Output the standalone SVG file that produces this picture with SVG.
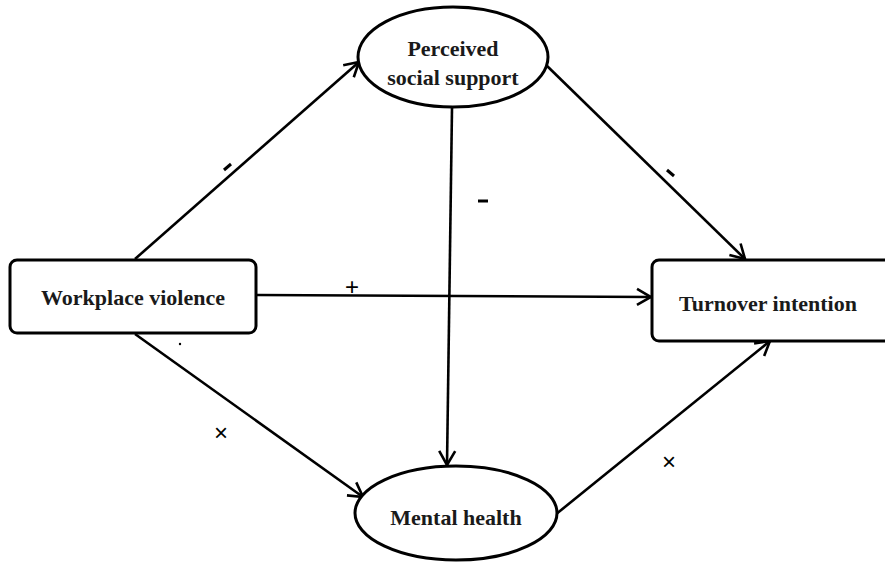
<svg xmlns="http://www.w3.org/2000/svg" width="885" height="562" viewBox="0 0 885 562">
<style>
.n{fill:#fff;stroke:#000;stroke-width:3}
.t{font-family:'Liberation Serif','Times New Roman',serif;font-weight:bold;font-size:22px;fill:#1a1a1a;text-anchor:middle}
.c{fill:none;stroke:#000;stroke-width:2.6}
.s{font-family:'Liberation Sans',Arial,sans-serif;font-size:24px;fill:#000;text-anchor:middle}
</style>
<defs>
<marker id="a" viewBox="0 0 20 20" refX="18" refY="10" markerWidth="20" markerHeight="20" markerUnits="userSpaceOnUse" orient="auto">
<path d="M4 2 L18 10 L4 18" fill="none" stroke="#000" stroke-width="2.6"/>
</marker>
</defs>
<rect width="885" height="562" fill="#fff"/>
<g id="connectors">
<line class="c" x1="135" y1="259" x2="359" y2="62" marker-end="url(#a)"/>
<line class="c" x1="544" y1="63" x2="745" y2="259" marker-end="url(#a)"/>
<line class="c" x1="452" y1="108" x2="447" y2="465" marker-end="url(#a)"/>
<line class="c" x1="257" y1="295" x2="651" y2="297" marker-end="url(#a)"/>
<line class="c" x1="135" y1="334" x2="363" y2="497" marker-end="url(#a)"/>
<line class="c" x1="555" y1="515" x2="770" y2="341" marker-end="url(#a)"/>
<line x1="224" y1="170" x2="231" y2="164" stroke="#000" stroke-width="3"/>
<line x1="478" y1="201" x2="488" y2="201" stroke="#000" stroke-width="3"/>
<line x1="667" y1="170" x2="674" y2="176" stroke="#000" stroke-width="3"/>
<text class="s" x="352" y="295">+</text>
<text class="s" x="221" y="441">×</text>
<text class="s" x="669" y="470">×</text>
<circle cx="180" cy="344" r="1.2" fill="#000"/>
</g>
<g id="workplace-violence">
<rect class="n" x="10" y="260" width="246" height="73" rx="7"/>
<text class="t" x="133" y="305">Workplace violence</text>
</g>
<g id="turnover-intention">
<rect class="n" x="652" y="260" width="240" height="81" rx="7"/>
<text class="t" x="768" y="311">Turnover intention</text>
</g>
<g id="perceived-social-support">
<ellipse class="n" cx="453" cy="57" rx="95" ry="50"/>
<text class="t" x="453" y="56">Perceived</text>
<text class="t" x="453" y="85">social support</text>
</g>
<g id="mental-health">
<ellipse class="n" cx="456" cy="513" rx="101" ry="47"/>
<text class="t" x="456" y="525">Mental health</text>
</g>
</svg>
